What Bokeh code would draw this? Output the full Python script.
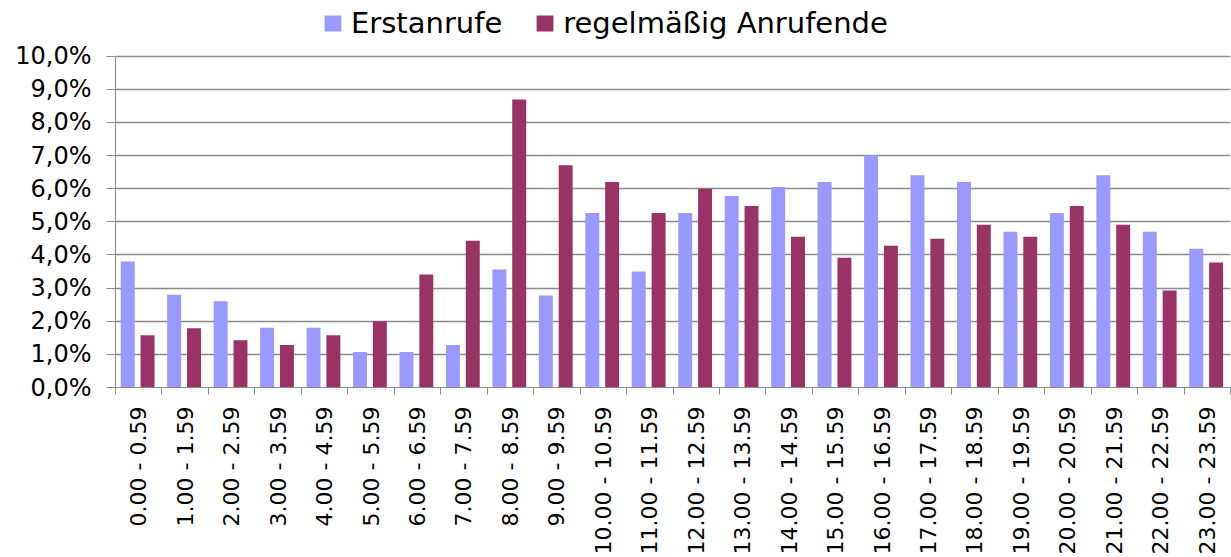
from bokeh.plotting import figure
from bokeh.models import (Range1d, FixedTicker, CustomJSTickFormatter, Legend,
                          LegendItem, ColumnDataSource)
from bokeh.transform import dodge
from bokeh.embed import file_html
from bokeh.resources import INLINE

categories = ["0.00 - 0.59", "1.00 - 1.59", "2.00 - 2.59", "3.00 - 3.59",
              "4.00 - 4.59", "5.00 - 5.59", "6.00 - 6.59", "7.00 - 7.59",
              "8.00 - 8.59", "9.00 - 9.59", "10.00 - 10.59", "11.00 - 11.59",
              "12.00 - 12.59", "13.00 - 13.59", "14.00 - 14.59", "15.00 - 15.59",
              "16.00 - 16.59", "17.00 - 17.59", "18.00 - 18.59", "19.00 - 19.59",
              "20.00 - 20.59", "21.00 - 21.59", "22.00 - 22.59", "23.00 - 23.59"]
erstanrufe = [3.8, 2.8, 2.6, 1.8, 1.8, 1.07, 1.07, 1.28, 3.56, 2.78, 5.27, 3.5,
              5.27, 5.78, 6.05, 6.2, 7.0, 6.41, 6.2, 4.7, 5.27, 6.41, 4.7, 4.19]
regelmaessig = [1.58, 1.79, 1.43, 1.28, 1.58, 2.0, 3.41, 4.43, 8.69, 6.71, 6.2, 5.27,
                6.0, 5.48, 4.55, 3.92, 4.28, 4.49, 4.91, 4.55, 5.48, 4.91, 2.93, 3.77]
series_names = ["Erstanrufe", "regelmäßig Anrufende"]
y_tick_values = [0, 1, 2, 3, 4, 5, 6, 7, 8, 9, 10]
y_tick_labels = ["0,0%", "1,0%", "2,0%", "3,0%", "4,0%", "5,0%", "6,0%",
                 "7,0%", "8,0%", "9,0%", "10,0%"]

FONT = "DejaVu Sans"
BLUE = "#9999FF"
RED = "#993366"
GRAY = "#8c8c8c"

n = len(categories)
source = ColumnDataSource(dict(
    x=[i + 0.5 for i in range(n)],
    erst=erstanrufe,
    reg=regelmaessig,
    cat=categories,
))

# frame spans the full height above the x axis; the top strip holds the legend
FRAME_H = 389
Y_MAX = 10 * FRAME_H / 333.0

p = figure(width=1231, height=557, output_backend="svg", toolbar_location=None,
           x_range=Range1d(0, n), y_range=Range1d(0, Y_MAX),
           min_border_left=115, min_border_right=1, min_border_top=0,
           min_border_bottom=168)
p.outline_line_color = None
p.background_fill_color = "white"
p.border_fill_color = "white"

r1 = p.vbar(x=dodge("x", -0.237), top="erst", width=0.30, source=source,
            fill_color=BLUE, line_color=None)
r2 = p.vbar(x=dodge("x", 0.19), top="reg", width=0.30, source=source,
            fill_color=RED, line_color=None)

# x axis
xa = p.xaxis[0]
xa.ticker = FixedTicker(ticks=[i + 0.5 for i in range(n)],
                        minor_ticks=list(range(n + 1)))
xa.formatter = CustomJSTickFormatter(args=dict(labels=categories),
                                     code="const i = Math.floor(tick); return labels[i] || '';")
xa.major_label_orientation = 3.14159265 / 2
xa.major_label_text_font = FONT
xa.major_label_text_font_size = "22px"
xa.major_label_text_color = "black"
xa.major_tick_line_color = None
xa.major_tick_out = 7
xa.major_tick_in = 0
xa.minor_tick_out = 7
xa.minor_tick_in = 0
xa.minor_tick_line_color = GRAY
xa.axis_line_color = GRAY
xa.major_label_standoff = 12

# y axis
ya = p.yaxis[0]
ya.bounds = (0, 10)
ya.ticker = FixedTicker(ticks=y_tick_values, minor_ticks=[])
ya.formatter = CustomJSTickFormatter(args=dict(labels=y_tick_labels),
                                     code="return labels[Math.round(tick)];")
ya.major_label_text_font = FONT
ya.major_label_text_font_size = "24px"
ya.major_label_text_color = "black"
ya.major_tick_out = 9
ya.major_tick_in = 0
ya.major_tick_line_color = GRAY
ya.minor_tick_line_color = None
ya.axis_line_color = GRAY
ya.major_label_standoff = 15

p.xgrid.visible = False
p.ygrid.ticker = FixedTicker(ticks=y_tick_values)
p.ygrid.grid_line_color = GRAY
p.ygrid.grid_line_width = 1.5

legend = Legend(items=[LegendItem(label=series_names[0], renderers=[r1]),
                       LegendItem(label=series_names[1], renderers=[r2])],
                orientation="horizontal", location=(207, 347))
legend.label_text_font = FONT
legend.label_text_font_size = "29px"
legend.label_text_color = "black"
legend.glyph_width = 21
legend.glyph_height = 20
legend.label_standoff = 8
legend.spacing = 32
legend.padding = 0
legend.margin = 0
legend.border_line_color = None
legend.background_fill_alpha = 0
p.add_layout(legend)

open("out.html", "w").write(file_html(p, INLINE))
